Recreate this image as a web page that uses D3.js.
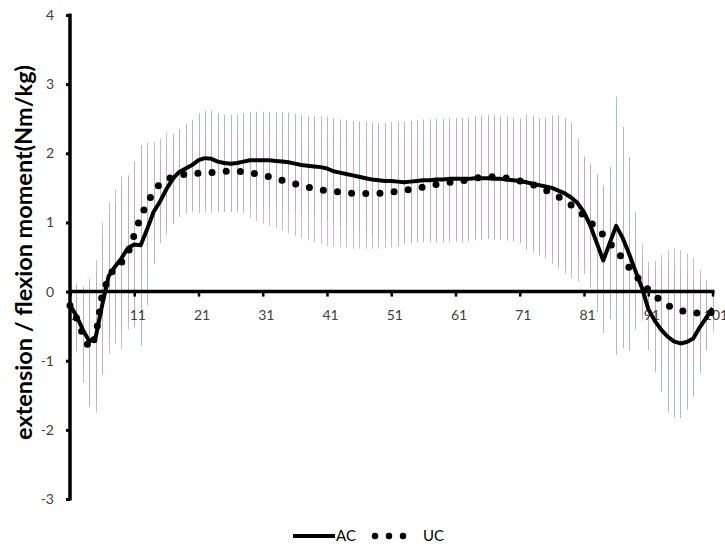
<!DOCTYPE html>
<html>
<head>
<meta charset="utf-8">
<script src="https://cdn.jsdelivr.net/npm/d3@7"></script>
<style>
  body { margin: 0; background: #fff; }
  svg { display: block; }
</style>
</head>
<body>
<svg id="chart" width="725" height="546"></svg>
<script>
// gait cycle points 1..101
const points = d3.range(1, 102);

// mean moment, AC (solid line)
const acMean = [
  -0.20, -0.35, -0.55, -0.72, -0.66, -0.20, 0.22, 0.36, 0.48, 0.63,
  0.68, 0.67, 0.90, 1.15, 1.30, 1.48, 1.63, 1.73, 1.78, 1.83,
  1.90, 1.93, 1.92, 1.88, 1.86, 1.85, 1.86, 1.88, 1.90, 1.90,
  1.90, 1.90, 1.89, 1.88, 1.87, 1.85, 1.83, 1.82, 1.81, 1.80,
  1.78, 1.74, 1.72, 1.70, 1.68, 1.66, 1.64, 1.62, 1.61, 1.60,
  1.60, 1.59, 1.58, 1.59, 1.60, 1.61, 1.61, 1.62, 1.62, 1.63,
  1.63, 1.63, 1.63, 1.64, 1.64, 1.64, 1.63, 1.63, 1.62, 1.61,
  1.60, 1.58, 1.56, 1.54, 1.52, 1.50, 1.46, 1.42, 1.36, 1.28,
  1.15, 0.95, 0.70, 0.45, 0.70, 0.95, 0.78, 0.55, 0.30, 0.06,
  -0.25, -0.42, -0.55, -0.65, -0.72, -0.75, -0.73, -0.68, -0.52, -0.38,
  -0.24
];

// mean moment, UC (dotted line)
const ucMean = [
  -0.20, -0.38, -0.62, -0.82, -0.65, -0.05, 0.20, 0.36, 0.42, 0.55,
  0.82, 1.08, 1.28, 1.44, 1.56, 1.62, 1.66, 1.68, 1.70, 1.71,
  1.71, 1.72, 1.72, 1.73, 1.74, 1.74, 1.74, 1.73, 1.72, 1.70,
  1.68, 1.66, 1.64, 1.61, 1.58, 1.56, 1.53, 1.51, 1.49, 1.47,
  1.46, 1.45, 1.44, 1.43, 1.42, 1.42, 1.42, 1.42, 1.42, 1.43,
  1.44, 1.45, 1.46, 1.48, 1.50, 1.51, 1.53, 1.55, 1.56, 1.58,
  1.60, 1.60, 1.62, 1.64, 1.65, 1.66, 1.66, 1.65, 1.64, 1.62,
  1.60, 1.58, 1.55, 1.51, 1.47, 1.42, 1.37, 1.32, 1.25, 1.18,
  1.10, 1.00, 0.92, 0.82, 0.70, 0.60, 0.48, 0.35, 0.24, 0.13,
  0.03, -0.05, -0.14, -0.20, -0.24, -0.27, -0.30, -0.31, -0.31, -0.31,
  -0.30
];

// standard deviations (error bars)
const acSD = [
  0.30, 0.45, 0.60, 0.90, 0.95, 1.00, 0.90, 0.90, 1.05, 1.05,
  1.20, 1.45, 1.10, 0.75, 0.60, 0.65, 0.65, 0.62, 0.65, 0.65,
  0.68, 0.68, 0.70, 0.70, 0.70, 0.70, 0.70, 0.70, 0.70, 0.70,
  0.70, 0.70, 0.70, 0.72, 0.72, 0.72, 0.72, 0.72, 0.73, 0.74,
  0.75, 0.76, 0.77, 0.78, 0.79, 0.80, 0.81, 0.82, 0.83, 0.84,
  0.85, 0.86, 0.88, 0.88, 0.88, 0.88, 0.88, 0.88, 0.88, 0.88,
  0.88, 0.88, 0.88, 0.88, 0.88, 0.88, 0.88, 0.88, 0.88, 0.88,
  0.90, 0.92, 0.94, 0.96, 1.00, 1.05, 1.09, 1.09, 1.08, 0.80,
  0.80, 0.90, 1.00, 1.05, 1.10, 1.87, 1.60, 1.40, 0.85, 0.45,
  0.60, 0.75, 0.90, 1.10, 1.10, 1.08, 0.98, 0.84, 0.66, 0.47,
  0.22
];

const ucSD = [
  0.30, 0.50, 0.70, 0.85, 1.10, 1.05, 1.10, 1.12, 1.25, 1.10,
  1.00, 0.90, 0.87, 0.72, 0.65, 0.68, 0.62, 0.60, 0.55, 0.56,
  0.58, 0.58, 0.58, 0.58, 0.58, 0.58, 0.58, 0.60, 0.66, 0.68,
  0.70, 0.71, 0.72, 0.73, 0.74, 0.75, 0.76, 0.77, 0.78, 0.78,
  0.80, 0.80, 0.80, 0.80, 0.80, 0.80, 0.80, 0.80, 0.80, 0.80,
  0.80, 0.80, 0.78, 0.78, 0.79, 0.80, 0.82, 0.84, 0.85, 0.87,
  0.88, 0.90, 0.90, 0.90, 0.90, 0.90, 0.90, 0.90, 0.90, 0.90,
  0.90, 0.98, 0.99, 1.00, 1.00, 1.02, 1.04, 1.06, 1.06, 1.03,
  0.85, 0.80, 0.75, 0.72, 0.75, 0.70, 0.60, 0.55, 0.50, 0.55,
  0.40, 0.50, 0.67, 0.80, 0.87, 0.87, 0.85, 0.80, 0.62, 0.48,
  0.28
];

const yTicks = [-3, -2, -1, 0, 1, 2, 3, 4];
const xTicks = [1, 11, 21, 31, 41, 51, 61, 71, 81, 91, 101];
const seriesNames = ['AC', 'UC'];

const svg = d3.select('#chart');

const xScale = d3.scaleLinear()
  .domain([1, 101])
  .range([70, 712.5]);

const yScale = d3.scaleLinear()
  .domain([-3, 4])
  .range([499, 15]);

const acData = points.map((p, i) => ({p, m: acMean[i], sd: acSD[i]}));
const ucData = points.map((p, i) => ({p, m: ucMean[i], sd: ucSD[i]}));

// error bars
const barsG = svg.append('g').attr('class', 'errorbars');

barsG.selectAll('.barAC').data(acData)
  .enter().append('line')
  .attr('class', 'barAC')
  .attr('x1', d => Math.round(xScale(d.p)) + 0.5)
  .attr('x2', d => Math.round(xScale(d.p)) + 0.5)
  .attr('y1', d => yScale(d.m + d.sd))
  .attr('y2', d => yScale(d.m - d.sd))
  .attr('stroke', '#a9bccf')
  .attr('stroke-width', 1);

barsG.selectAll('.barUC').data(ucData)
  .enter().append('line')
  .attr('class', 'barUC')
  .attr('x1', d => Math.round(xScale(d.p)) + 0.5)
  .attr('x2', d => Math.round(xScale(d.p)) + 0.5)
  .attr('y1', d => yScale(d.m + d.sd))
  .attr('y2', d => yScale(d.m - d.sd))
  .attr('stroke', '#c9a7b0')
  .attr('stroke-width', 1)
  .attr('stroke-opacity', 0.8);

// y axis
const yAxis = d3.axisLeft(yScale)
  .tickValues(yTicks)
  .tickSize(4)
  .tickSizeOuter(0)
  .tickPadding(12)
  .tickFormat(d => String(d));

const yAxisG = svg.append('g')
  .attr('class', 'yAxis')
  .attr('transform', 'translate(70,0)')
  .call(yAxis);

yAxisG.select('.domain')
  .attr('d', `M0,${yScale(-3) + 1.5}V${yScale(4) - 1.5}`)
  .style('stroke', '#000')
  .style('stroke-width', '3.5px');
yAxisG.selectAll('.tick line')
  .style('stroke', '#000')
  .style('stroke-width', '3px');
yAxisG.selectAll('.tick text')
  .attr('fill', '#404040')
  .style('font-family', 'Lato, "Open Sans", sans-serif')
  .style('font-size', '14px');

// x axis at y = 0
const xAxis = d3.axisBottom(xScale)
  .tickValues(xTicks)
  .tickSize(5)
  .tickSizeOuter(0)
  .tickPadding(13)
  .tickFormat(d => String(d));

const xAxisG = svg.append('g')
  .attr('class', 'xAxis')
  .attr('transform', `translate(0,${yScale(0)})`)
  .call(xAxis);

xAxisG.select('.domain')
  .attr('d', `M${xScale(1)},0H${xScale(101) + 2}`)
  .style('stroke', '#000')
  .style('stroke-width', '3.5px');
xAxisG.selectAll('.tick line')
  .style('stroke', '#000')
  .style('stroke-width', '2.5px');
xAxisG.selectAll('.tick text')
  .attr('fill', '#404040')
  .attr('dx', 3)
  .style('font-family', 'Lato, "Open Sans", sans-serif')
  .style('font-size', '14px');

// y axis title
const yTitle = svg.append('text')
  .attr('class', 'axis-label')
  .attr('transform', `translate(24,${(65 + 440) / 2}) rotate(-90)`)
  .attr('text-anchor', 'middle')
  .attr('dy', '0.35em')
  .attr('fill', '#000')
  .style('font-family', 'Lato, "Open Sans", sans-serif')
  .style('font-weight', 'bold')
  .style('font-size', '18px')
  .text('extension / flexion moment(Nm/kg)');

// fit title to the length seen in the reference
const wantLen = 375;
const gotLen = yTitle.node().getComputedTextLength();
yTitle.style('font-size', (18 * wantLen / gotLen).toFixed(2) + 'px');

// series lines
const line = d3.line()
  .x(d => xScale(d.p))
  .y(d => yScale(d.m));

svg.append('path')
  .datum(acData)
  .attr('class', 'lineAC')
  .attr('fill', 'none')
  .attr('stroke', '#000')
  .attr('stroke-width', 4)
  .attr('stroke-linejoin', 'round')
  .attr('d', line);

svg.append('path')
  .datum(ucData)
  .attr('class', 'lineUC')
  .attr('fill', 'none')
  .attr('stroke', '#000')
  .attr('stroke-width', 7)
  .attr('stroke-linecap', 'round')
  .attr('stroke-dasharray', '0 14.2')
  .attr('d', line);

// legend
const legend = svg.append('g').attr('class', 'legend');
legend.append('line')
  .attr('x1', 293).attr('x2', 335)
  .attr('y1', 536).attr('y2', 536)
  .attr('stroke', '#000')
  .attr('stroke-width', 4);
legend.append('text')
  .attr('x', 336).attr('y', 541)
  .attr('fill', '#000')
  .style('font-family', 'Lato, "Open Sans", sans-serif')
  .style('font-size', '15px')
  .text(seriesNames[0]);
legend.append('line')
  .attr('x1', 375).attr('x2', 404)
  .attr('y1', 536).attr('y2', 536)
  .attr('stroke', '#000')
  .attr('stroke-width', 6.5)
  .attr('stroke-linecap', 'round')
  .attr('stroke-dasharray', '0 14');
legend.append('text')
  .attr('x', 423).attr('y', 541)
  .attr('fill', '#000')
  .style('font-family', 'Lato, "Open Sans", sans-serif')
  .style('font-size', '15px')
  .text(seriesNames[1]);
</script>
</body>
</html>
